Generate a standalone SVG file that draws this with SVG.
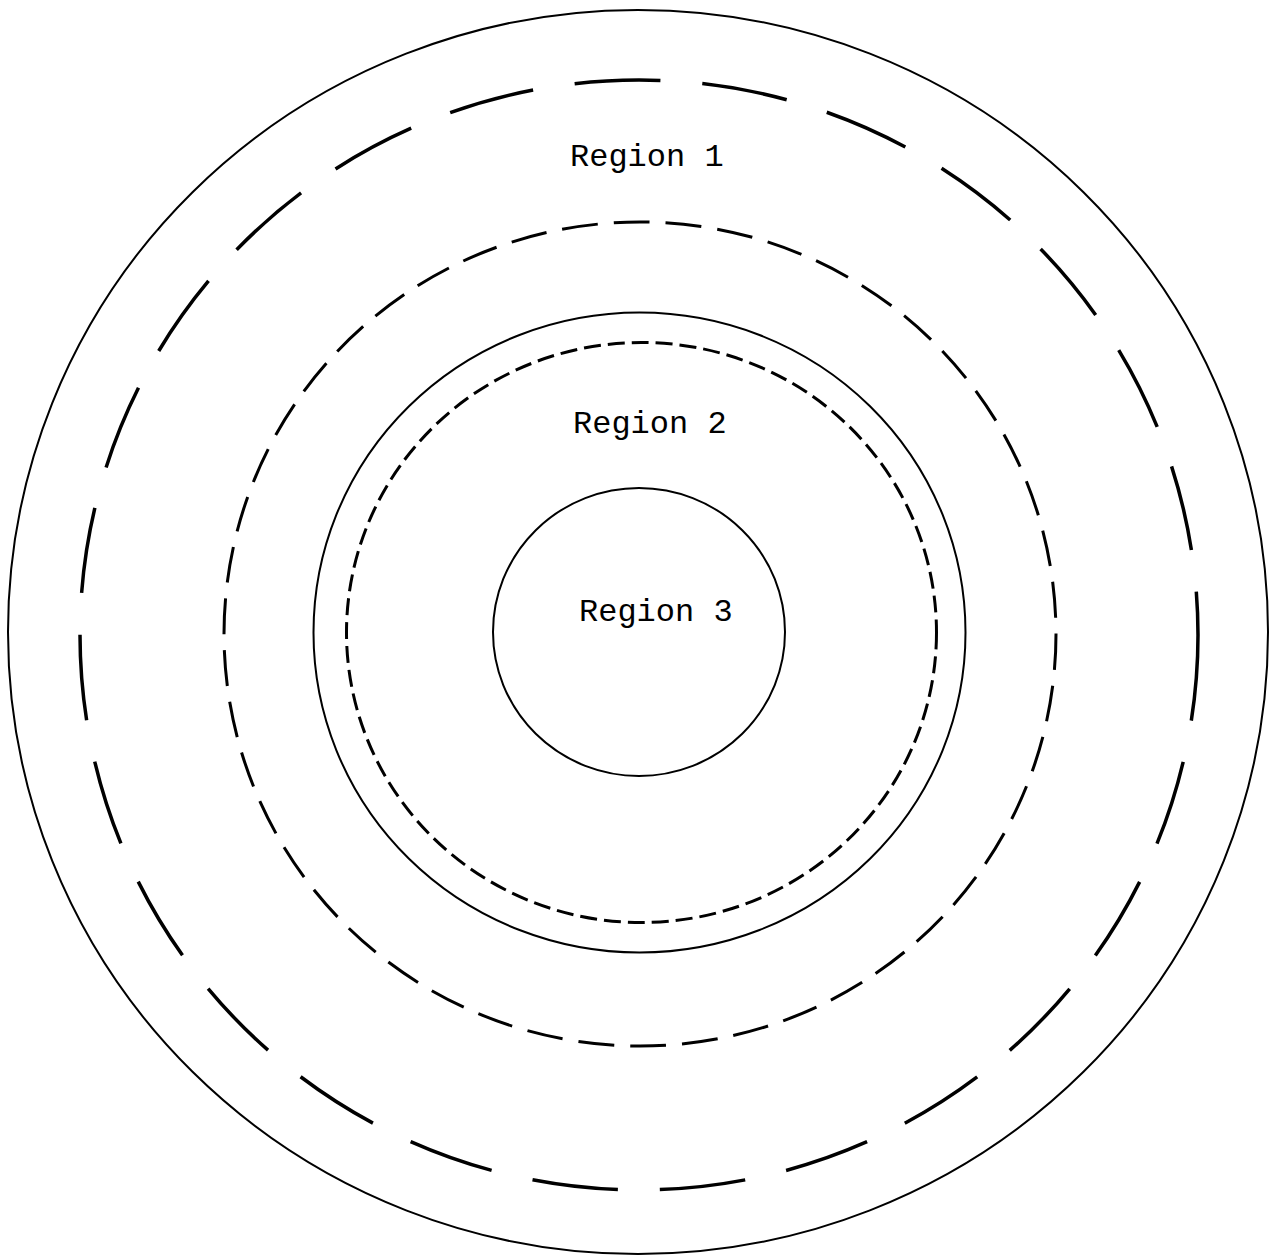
<svg xmlns="http://www.w3.org/2000/svg" width="1270" height="1259" viewBox="0 0 1270 1259">
<style>
.solid{fill:none;stroke:#000;stroke-width:2}
.long{fill:none;stroke:#000;stroke-width:3.5;stroke-dasharray:86 42}
.med{fill:none;stroke:#000;stroke-width:3;stroke-dasharray:36 16}
.short{fill:none;stroke:#000;stroke-width:3;stroke-dasharray:17 7}
.lbl{font-family:"Liberation Mono","Courier New",monospace;font-size:32px;fill:#000}
</style>
<rect width="1270" height="1259" fill="#fff"/>
<g id="outer"><ellipse class="solid" cx="638" cy="632" rx="630" ry="622"/></g>
<g id="long-dashed"><ellipse class="long" cx="639" cy="635" rx="559" ry="555"/></g>
<g id="medium-dashed"><ellipse class="med" cx="640" cy="634" rx="416" ry="412"/></g>
<g id="middle"><ellipse class="solid" cx="639.5" cy="632.5" rx="326" ry="320"/></g>
<g id="short-dashed"><ellipse class="short" cx="641.5" cy="632.5" rx="295" ry="290"/></g>
<g id="inner"><ellipse class="solid" cx="639" cy="632" rx="146" ry="144"/></g>
<g id="labels">
<text class="lbl" x="570" y="166">Region 1</text>
<text class="lbl" x="573" y="433">Region 2</text>
<text class="lbl" x="579" y="621">Region 3</text>
</g>
</svg>
